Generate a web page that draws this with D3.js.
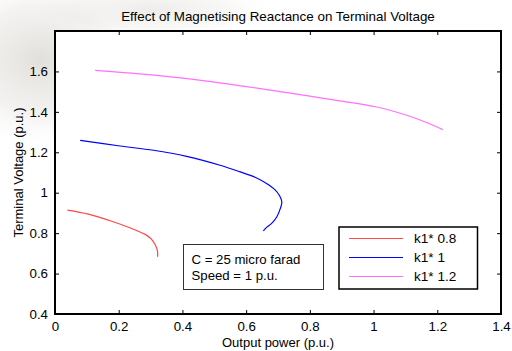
<!DOCTYPE html>
<html>
<head>
<meta charset="utf-8">
<script src="https://cdn.jsdelivr.net/npm/d3@7"></script>
<style>
  html, body { margin: 0; padding: 0; background: #fff; }
  svg { display: block; font-family: "Liberation Sans", Arial, Helvetica, sans-serif; }
</style>
</head>
<body>
<svg id="chart" width="512" height="351"></svg>
<script>
// ---- Data ----
const xTicks = [0, 0.2, 0.4, 0.6, 0.8, 1, 1.2, 1.4];
const yTicks = [0.4, 0.6, 0.8, 1, 1.2, 1.4, 1.6];

const seriesNames = ["k1* 0.8", "k1* 1", "k1* 1.2"];
const seriesColors = ["#ff4848", "#0000ff", "#ff70ff"];

const redX = [0.039, 0.105, 0.178, 0.241, 0.283, 0.300, 0.309, 0.316, 0.320, 0.322, 0.322];
const redY = [0.914, 0.894, 0.859, 0.823, 0.794, 0.775, 0.757, 0.738, 0.722, 0.705, 0.683];

const blueX = [0.079, 0.204, 0.309, 0.413, 0.518, 0.581, 0.630, 0.664, 0.690, 0.705, 0.712, 0.708, 0.696, 0.680, 0.665, 0.654];
const blueY = [1.259, 1.231, 1.210, 1.180, 1.136, 1.103, 1.075, 1.045, 1.015, 0.985, 0.955, 0.925, 0.880, 0.848, 0.830, 0.811];

const pinkX = [0.126, 0.319, 0.476, 0.644, 0.884, 1.010, 1.104, 1.170, 1.217];
const pinkY = [1.605, 1.580, 1.552, 1.515, 1.457, 1.424, 1.383, 1.345, 1.312];

const noteLines = ["C = 25 micro farad", "Speed = 1 p.u."];
const titleText = "Effect of Magnetising Reactance on Terminal Voltage";
const xLabel = "Output power (p.u.)";
const yLabel = "Terminal Voltage (p.u.)";

// ---- Layout ----
const svg = d3.select("#chart");
const L = 55, T = 31, R = 501, B = 314;

// faint background watermark (top-left)
const defs = svg.append("defs");
const rg = defs.append("radialGradient").attr("id", "wm").attr("cx", "0.5").attr("cy", "0.5").attr("r", "0.5");
rg.append("stop").attr("offset", "0%").attr("stop-color", "#dcdad6").attr("stop-opacity", 0.85);
rg.append("stop").attr("offset", "60%").attr("stop-color", "#e8e6e2").attr("stop-opacity", 0.5);
rg.append("stop").attr("offset", "100%").attr("stop-color", "#ffffff").attr("stop-opacity", 0);
svg.append("ellipse").attr("cx", 40).attr("cy", 60).attr("rx", 110).attr("ry", 90).attr("fill", "url(#wm)");
svg.append("ellipse").attr("cx", 150).attr("cy", 10).attr("rx", 130).attr("ry", 30).attr("fill", "url(#wm)").attr("opacity", 0.6);

svg.append("rect").attr("x", L).attr("y", T).attr("width", R - L).attr("height", B - T).attr("fill", "#fff");

const x = d3.scaleLinear().domain([0, 1.4]).range([L, R]);
const y = d3.scaleLinear().domain([0.4, 1.8]).range([B, T]);

const fmt = d => String(d);
const tickLen = 4;

// Axes with inward ticks
const gx = svg.append("g").attr("transform", `translate(0,${B})`)
  .call(d3.axisBottom(x).tickValues(xTicks).tickFormat(fmt).tickSizeInner(-tickLen).tickSizeOuter(0).tickPadding(8));
const gxTop = svg.append("g").attr("transform", `translate(0,${T})`)
  .call(d3.axisTop(x).tickValues(xTicks).tickFormat("").tickSizeInner(-tickLen).tickSizeOuter(0));
const gy = svg.append("g").attr("transform", `translate(${L},0)`)
  .call(d3.axisLeft(y).tickValues(yTicks).tickFormat(fmt).tickSizeInner(-tickLen).tickSizeOuter(0).tickPadding(7));
const gyR = svg.append("g").attr("transform", `translate(${R},0)`)
  .call(d3.axisRight(y).tickValues(yTicks).tickFormat("").tickSizeInner(-tickLen).tickSizeOuter(0));

[gx, gxTop, gy, gyR].forEach(g => {
  g.select(".domain").remove();
  g.selectAll(".tick line").attr("stroke", "#000").attr("stroke-width", 1);
  g.selectAll(".tick text").attr("fill", "#000").attr("font-size", 13.3)
    .attr("font-family", "'Liberation Sans', Arial, sans-serif");
});

// axes box
svg.append("rect").attr("x", L).attr("y", T).attr("width", R - L).attr("height", B - T)
  .attr("fill", "none").attr("stroke", "#000").attr("stroke-width", 2);

// Lines
const line = d3.line().x(d => x(d[0])).y(d => y(d[1])).curve(d3.curveCatmullRom.alpha(0.5));
const series = [
  d3.zip(redX, redY),
  d3.zip(blueX, blueY),
  d3.zip(pinkX, pinkY)
];
series.forEach((s, i) => {
  svg.append("path").datum(s).attr("d", line)
    .attr("fill", "none").attr("stroke", seriesColors[i]).attr("stroke-width", 1.2)
    .attr("stroke-linejoin", "round");
});

// Title & labels
svg.append("text").attr("x", (L + R) / 2).attr("y", 21).attr("text-anchor", "middle")
  .attr("font-size", 13.4).text(titleText);
svg.append("text").attr("x", (L + R) / 2).attr("y", 347).attr("text-anchor", "middle")
  .attr("font-size", 13).text(xLabel);
svg.append("text").attr("transform", `translate(23,${(T + B) / 2}) rotate(-90)`).attr("text-anchor", "middle")
  .attr("font-size", 13).text(yLabel);

// Note box
const note = svg.append("g");
note.append("rect").attr("x", 183.5).attr("y", 244.5).attr("width", 140).attr("height", 45)
  .attr("fill", "#fff").attr("stroke", "#333").attr("stroke-width", 1);
noteLines.forEach((t, i) => {
  note.append("text").attr("x", 191.5).attr("y", 263.5 + i * 16.5).attr("font-size", 13.2).text(t);
});

// Legend
const lg = svg.append("g");
lg.append("rect").attr("x", 339).attr("y", 227).attr("width", 138.5).attr("height", 62)
  .attr("fill", "#fff").attr("stroke", "#000").attr("stroke-width", 1.5);
const rowY = [238.5, 257.5, 276.5];
seriesNames.forEach((n, i) => {
  lg.append("line").attr("x1", 349).attr("x2", 403).attr("y1", rowY[i]).attr("y2", rowY[i])
    .attr("stroke", seriesColors[i]).attr("stroke-width", 1.2);
  lg.append("text").attr("x", 414).attr("y", rowY[i] + 4.8).attr("font-size", 13.6).text(n);
});
</script>
</body>
</html>
